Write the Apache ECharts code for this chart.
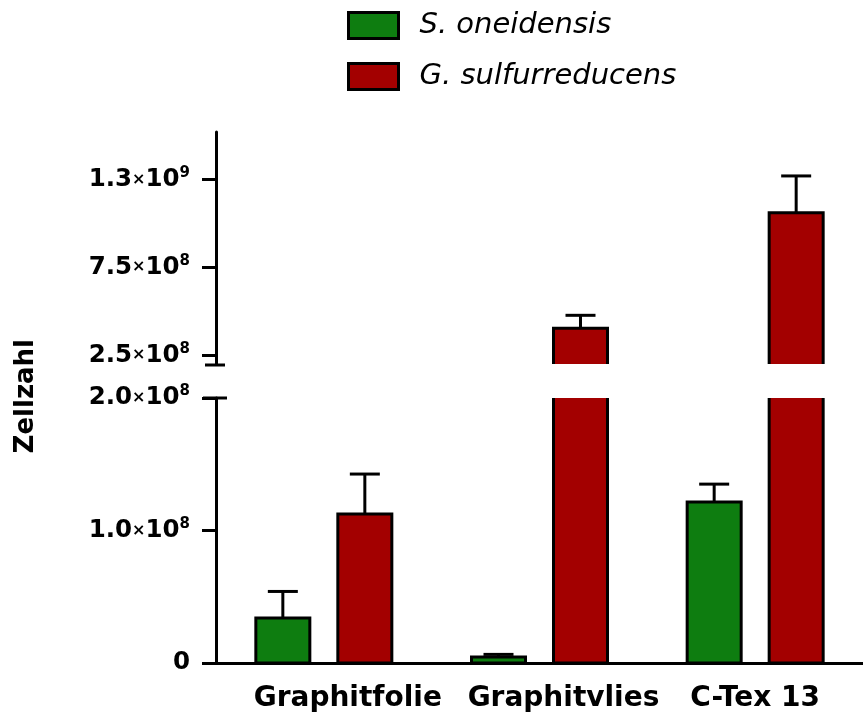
<!DOCTYPE html>
<html>
<head>
<meta charset="utf-8">
<script src="https://cdn.jsdelivr.net/npm/echarts@6/dist/echarts.min.js"></script>
<style>
html, body { margin: 0; padding: 0; background: #fff; }
#main { width: 863px; height: 715px; }
</style>
</head>
<body>
<div id="main"></div>
<script>
// data
var categories = ['Graphitfolie', 'Graphitvlies', 'C-Tex 13']
var seriesNames = ['S. oneidensis', 'G. sulfurreducens']
var oneidensisMean = [3.4e7, 4.5e6, 1.215e8]
var oneidensisErr = [5.4e7, 6.5e6, 1.35e8]       // top of error bar
var sulfurMean = [1.125e8, 4.03e8, 1.06e9]
var sulfurErr = [1.426e8, 4.77e8, 1.27e9]        // top of error bar

// axis ticks (broken y axis)
var lowerTicks = [0, 1e8, 2e8]
var lowerMant = ['0', '1.0', '2.0']
var lowerExp = ['', '8', '8']
var upperTicks = [2.5e8, 7.5e8, 1.25e9]
var upperMant = ['2.5', '7.5', '1.3']
var upperExp = ['8', '8', '9']

var green = '#0e7d10'
var red = '#a30000'
var labelFont = 'DejaVu Sans'
var halfBar = 27

function tickFormatter(ticks, mant, exp) {
	return function(v) {
		for (var i = 0; i < ticks.length; i++) {
			if (Math.abs(ticks[i] - v) < 1) {
				if (!exp[i]) return '{m|' + mant[i] + '}'
				return '{m|' + mant[i] + '}{x|×}{m|10}{s|' + exp[i] + '}'
			}
		}
		return ''
	}
}

var labelRich = {
	m : { fontFamily : labelFont, fontWeight : 'bold', fontSize : 24.5, color : '#000' },
	x : { fontFamily : labelFont, fontWeight : 'bold', fontSize : 16, color : '#000' },
	s : { fontFamily : labelFont, fontWeight : 'bold', fontSize : 15, color : '#000', padding : [0, 0, 13, 0] }
}

// bars drawn as custom series so a bar cut by the axis break has no border at the cut
function barSeries(name, gridIdx, values, color, offset) {
	var data = []
	for (var i = 0; i < categories.length; i++) {
		data.push([i, values[i]])
	}
	return {
		type : 'custom',
		name : name,
		xAxisIndex : gridIdx,
		yAxisIndex : gridIdx,
		z : 3,
		itemStyle : { color : color },
		data : data,
		renderItem : function(params, api) {
			var cs = params.coordSys
			var p = api.coord([api.value(0), api.value(1)])
			var x = p[0] + offset
			var bottom = cs.y + cs.height
			var top = Math.max(p[1], cs.y)
			if (top >= bottom - 0.5) return null
			var cut = p[1] < cs.y
			var line = { stroke : '#000', lineWidth : 3, fill : null }
			var children = [ {
				type : 'rect',
				shape : { x : x - halfBar, y : top, width : halfBar * 2, height : bottom - top },
				style : { fill : color }
			} ]
			if (cut) {
				children.push({ type : 'line', shape : { x1 : x - halfBar, y1 : top, x2 : x - halfBar, y2 : bottom }, style : line })
				children.push({ type : 'line', shape : { x1 : x + halfBar, y1 : top, x2 : x + halfBar, y2 : bottom }, style : line })
			} else {
				children.push({
					type : 'polyline',
					shape : { points : [[x - halfBar, bottom], [x - halfBar, top], [x + halfBar, top], [x + halfBar, bottom]] },
					style : line
				})
			}
			if (gridIdx === 1) {
				children.push({ type : 'line', shape : { x1 : x - halfBar, y1 : bottom, x2 : x + halfBar, y2 : bottom }, style : line })
			}
			return { type : 'group', children : children }
		}
	}
}

function errorSeries(name, gridIdx, tops, means, offset) {
	var data = []
	for (var i = 0; i < categories.length; i++) {
		data.push([i, means[i], tops[i]])
	}
	return {
		type : 'custom',
		name : name + ' err',
		xAxisIndex : gridIdx,
		yAxisIndex : gridIdx,
		clip : true,
		z : 5,
		data : data,
		renderItem : function(params, api) {
			var base = api.coord([api.value(0), api.value(1)])
			var top = api.coord([api.value(0), api.value(2)])
			var x = base[0] + offset
			var style = { stroke : '#000', lineWidth : 3 }
			return {
				type : 'group',
				children : [ {
					type : 'line',
					shape : { x1 : x, y1 : base[1], x2 : x, y2 : top[1] },
					style : style
				}, {
					type : 'line',
					shape : { x1 : x - 15, y1 : top[1], x2 : x + 15, y2 : top[1] },
					style : style
				} ]
			}
		}
	}
}

var myChart = echarts.init(document.getElementById('main'))

function xAxisOpt(gridIdx, show) {
	return {
		type : 'category',
		gridIndex : gridIdx,
		show : show,
		data : categories,
		axisLine : { lineStyle : { color : '#000', width : 3 } },
		axisTick : { alignWithLabel : true, length : 14, lineStyle : { color : '#000', width : 3 } },
		axisLabel : {
			interval : 0,
			hideOverlap : false,
			margin : 22,
			formatter : function(v, i) {
				return (i < 2 ? '{a|' : '{b|') + v + '}'
			},
			rich : {
				a : { fontFamily : labelFont, fontWeight : 'bold', fontSize : 28, color : '#000', padding : [0, 0, 0, 48] },
				b : { fontFamily : labelFont, fontWeight : 'bold', fontSize : 28, color : '#000' }
			}
		}
	}
}

var option = {
	backgroundColor : '#fff',
	animation : false,
	legend : {
		orient : 'vertical',
		left : 342,
		top : 6,
		icon : 'rect',
		itemWidth : 50,
		itemHeight : 26,
		itemGap : 22,
		data : seriesNames,
		itemStyle : { borderColor : '#000', borderWidth : 3 },
		textStyle : {
			fontFamily : 'DejaVu Sans',
			fontStyle : 'italic',
			fontSize : 29,
			lineHeight : 26,
			color : '#000',
			padding : [0, 0, 0, 16]
		}
	},
	grid : [
		{ left : 216, width : 657, top : 132, height : 232 },
		{ left : 216, width : 657, top : 398, height : 265 }
	],
	xAxis : [ xAxisOpt(0, false), xAxisOpt(1, true) ],
	yAxis : [ {
		type : 'value',
		gridIndex : 0,
		min : 2e8,
		max : 1.52e9,
		splitLine : { show : false },
		axisLine : { show : true, lineStyle : { color : '#000', width : 3 } },
		axisTick : { show : true, length : 14, customValues : upperTicks, lineStyle : { color : '#000', width : 3 } },
		axisLabel : { margin : 26, customValues : upperTicks, formatter : tickFormatter(upperTicks, upperMant, upperExp), rich : labelRich }
	}, {
		type : 'value',
		gridIndex : 1,
		min : 0,
		max : 2e8,
		splitLine : { show : false },
		axisLine : { show : true, lineStyle : { color : '#000', width : 3 } },
		axisTick : { show : true, length : 14, customValues : lowerTicks, lineStyle : { color : '#000', width : 3 } },
		axisLabel : { margin : 26, customValues : lowerTicks, formatter : tickFormatter(lowerTicks, lowerMant, lowerExp), rich : labelRich }
	} ],
	graphic : [ {
		type : 'text',
		left : 13,
		top : 339,
		rotation : Math.PI / 2,
		style : {
			text : 'Zellzahl',
			fontFamily : labelFont,
			fontWeight : 'bold',
			fontSize : 26,
			fill : '#000'
		}
	}, {
		// axis break caps
		type : 'line',
		shape : { x1 : 205, y1 : 365, x2 : 225, y2 : 365 },
		style : { stroke : '#000', lineWidth : 3 }
	}, {
		type : 'line',
		shape : { x1 : 203, y1 : 398, x2 : 227, y2 : 398 },
		style : { stroke : '#000', lineWidth : 3 }
	} ],
	series : [
		barSeries(seriesNames[0], 0, oneidensisMean, green, -41),
		barSeries(seriesNames[1], 0, sulfurMean, red, 41),
		barSeries(seriesNames[0], 1, oneidensisMean, green, -41),
		barSeries(seriesNames[1], 1, sulfurMean, red, 41),
		errorSeries(seriesNames[0], 0, oneidensisErr, oneidensisMean, -41),
		errorSeries(seriesNames[1], 0, sulfurErr, sulfurMean, 41),
		errorSeries(seriesNames[0], 1, oneidensisErr, oneidensisMean, -41),
		errorSeries(seriesNames[1], 1, sulfurErr, sulfurMean, 41)
	]
}

myChart.setOption(option)
</script>
</body>
</html>
